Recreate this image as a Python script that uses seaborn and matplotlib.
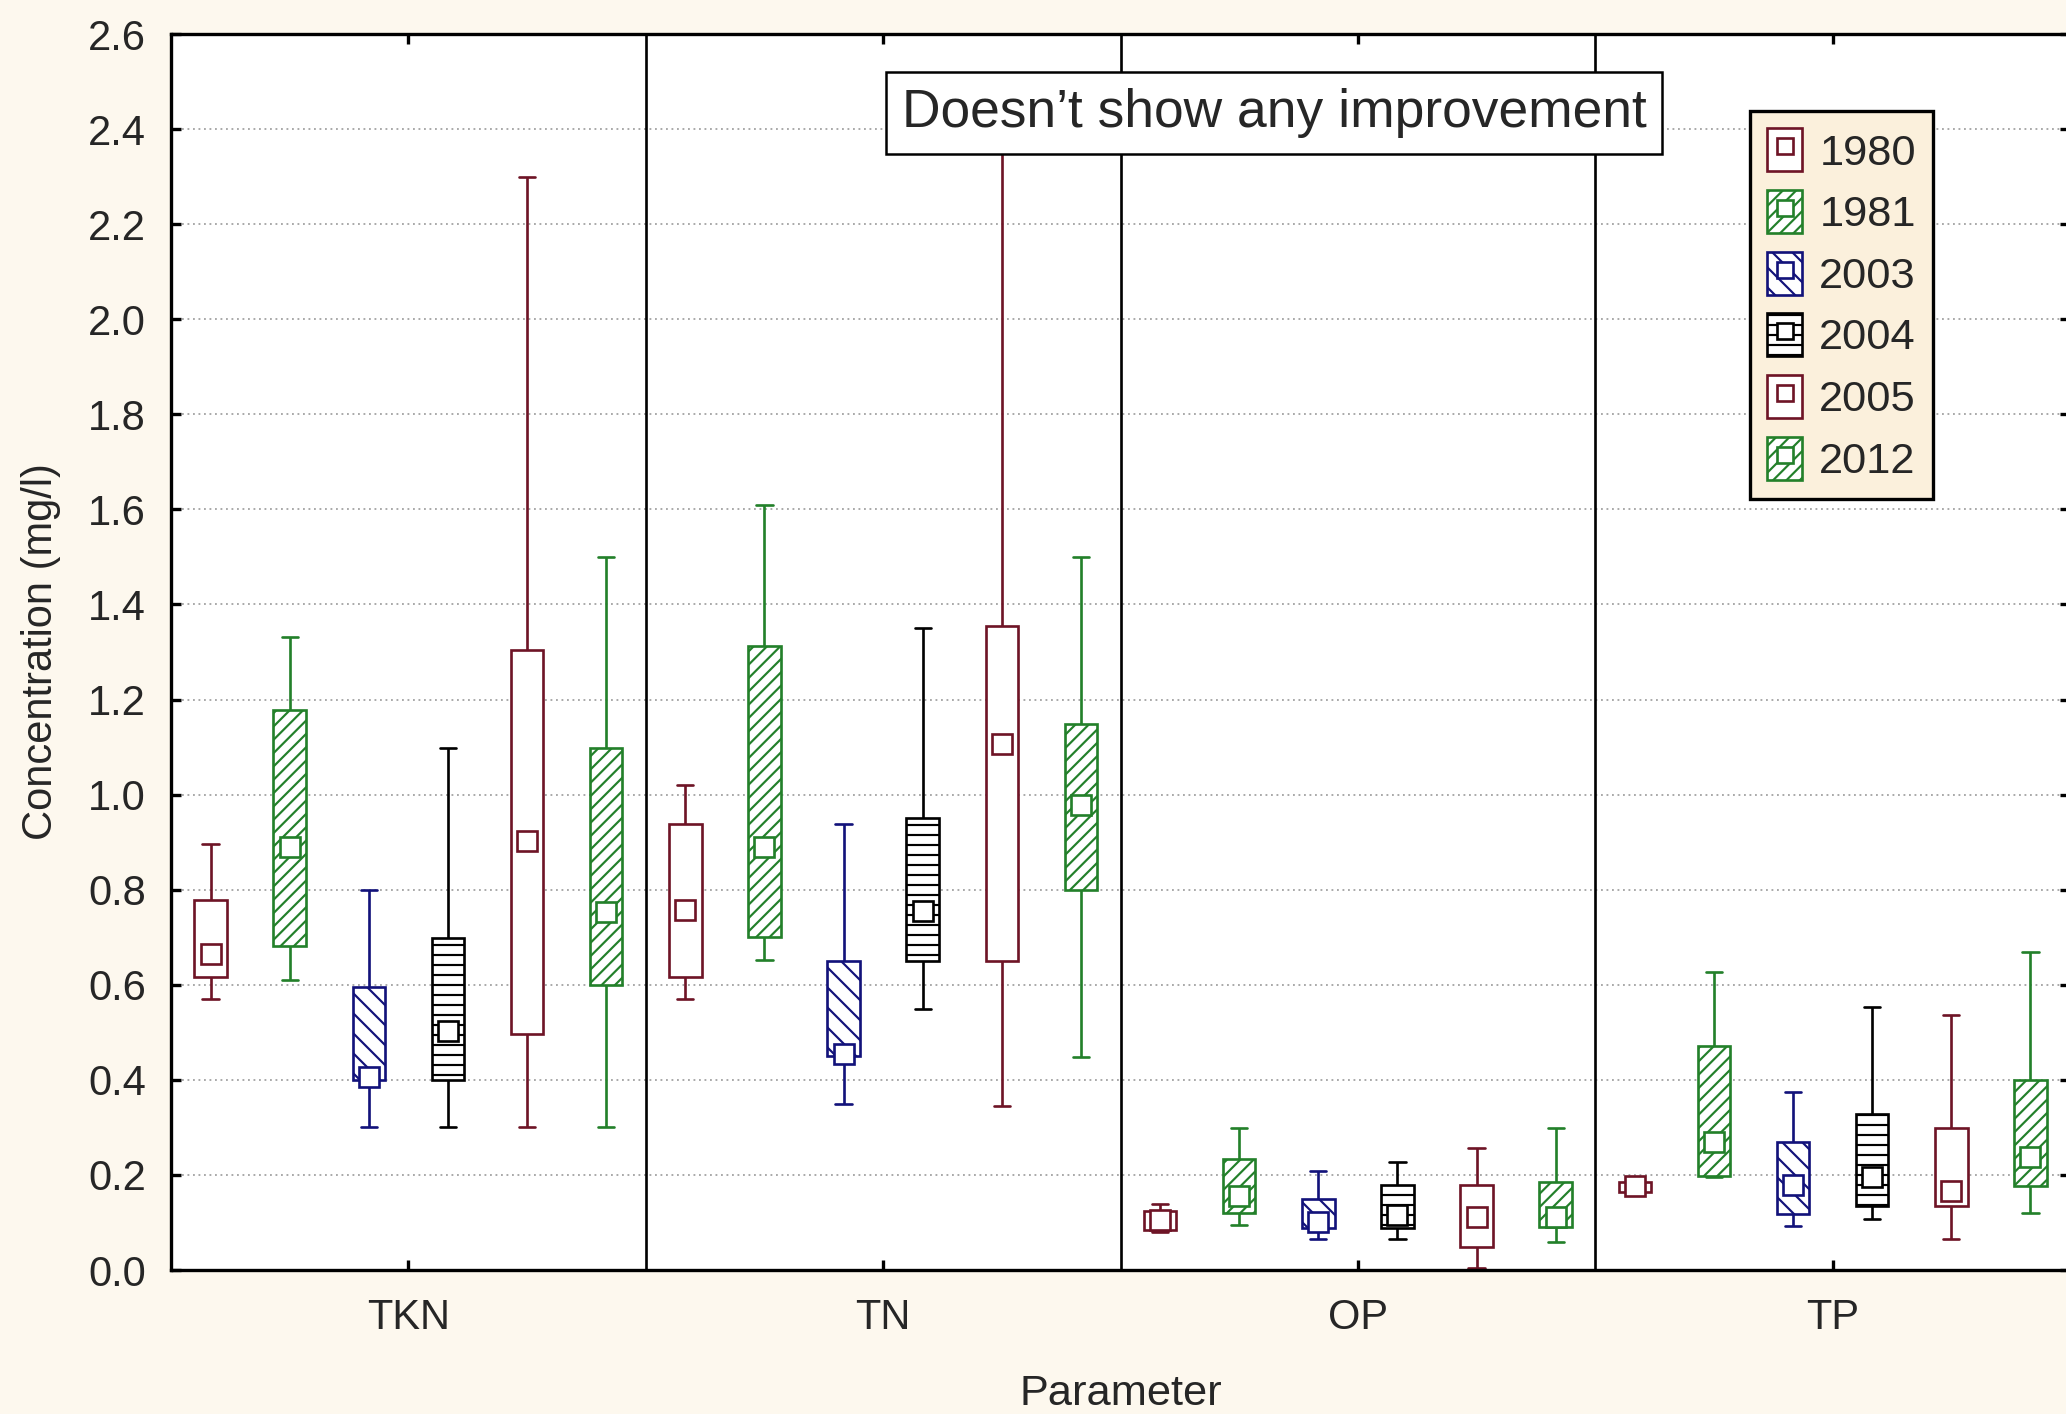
import numpy as np
import pandas as pd
import matplotlib
matplotlib.use("Agg")
import matplotlib.pyplot as plt
from matplotlib.patches import Patch
from matplotlib.lines import Line2D
from matplotlib.ticker import FormatStrFormatter
from matplotlib.colors import to_hex
import seaborn as sns

# ---- data: five-number summaries (min, Q1, median, Q3, max) in mg/l ----
params = ["TKN", "TN", "OP", "TP"]
years = ["1980", "1981", "2003", "2004", "2005", "2012"]

# one value per parameter, in the order of `params`
conc_min = {
    "1980": [0.57, 0.57, 0.080, 0.160],
    "1981": [0.61, 0.652, 0.094, 0.195],
    "2003": [0.30, 0.35, 0.065, 0.093],
    "2004": [0.30, 0.55, 0.065, 0.107],
    "2005": [0.30, 0.346, 0.005, 0.065],
    "2012": [0.30, 0.448, 0.058, 0.119],
}
conc_q1 = {
    "1980": [0.616, 0.617, 0.085, 0.165],
    "1981": [0.681, 0.70, 0.119, 0.198],
    "2003": [0.40, 0.45, 0.088, 0.118],
    "2004": [0.40, 0.65, 0.089, 0.135],
    "2005": [0.497, 0.651, 0.048, 0.135],
    "2012": [0.599, 0.80, 0.090, 0.177],
}
conc_median = {
    "1980": [0.665, 0.758, 0.105, 0.177],
    "1981": [0.889, 0.889, 0.156, 0.270],
    "2003": [0.405, 0.454, 0.100, 0.179],
    "2004": [0.502, 0.755, 0.116, 0.195],
    "2005": [0.903, 1.106, 0.112, 0.167],
    "2012": [0.753, 0.979, 0.112, 0.238],
}
conc_q3 = {
    "1980": [0.778, 0.939, 0.125, 0.186],
    "1981": [1.177, 1.313, 0.233, 0.471],
    "2003": [0.595, 0.65, 0.149, 0.270],
    "2004": [0.699, 0.95, 0.179, 0.328],
    "2005": [1.304, 1.355, 0.178, 0.298],
    "2012": [1.098, 1.149, 0.186, 0.400],
}
conc_max = {
    "1980": [0.897, 1.021, 0.138, 0.190],
    "1981": [1.332, 1.61, 0.298, 0.626],
    "2003": [0.80, 0.939, 0.208, 0.375],
    "2004": [1.098, 1.35, 0.227, 0.554],
    "2005": [2.30, 2.45, 0.256, 0.537],
    "2012": [1.50, 1.50, 0.298, 0.668],
}

year_colors = {
    "1980": "#6E1426",
    "1981": "#23802A",
    "2003": "#12127A",
    "2004": "#000000",
    "2005": "#6E1426",
    "2012": "#23802A",
}
year_hatches = {
    "1980": "",
    "1981": "///",
    "2003": "\\\\",
    "2004": "--",
    "2005": "",
    "2012": "///",
}

note_text = "Doesn\u2019t show any improvement"

# long table: each (parameter, year) group holds its five summary values,
# so the quartiles and whisker ends come out exactly as listed
rows = []
for yr in years:
    for i, p in enumerate(params):
        for stat in (conc_min, conc_q1, conc_median, conc_q3, conc_max):
            rows.append({"Parameter": p, "Year": yr, "Concentration": stat[yr][i]})
df = pd.DataFrame(rows)

# ---- styling ----
BG = "#FDF8EE"
LEG_BG = "#FBF0DC"
sns.set_style("ticks")
plt.rcParams["font.family"] = ["Liberation Sans", "DejaVu Sans"]
plt.rcParams["hatch.linewidth"] = 1.3

W, H, DPI = 2066, 1414, 120
fig = plt.figure(figsize=(W / DPI, H / DPI), dpi=DPI, facecolor=BG)
ax = fig.add_axes([171 / W, (H - 1270) / H, (W + 4 - 171) / W, (1270 - 34) / H])
ax.set_facecolor("white")

white_pal = {y: "white" for y in years}

for yr in years:
    n0 = len(ax.patches)
    sub = df[df["Year"] == yr]
    sns.boxplot(
        data=sub, x="Parameter", y="Concentration", hue="Year",
        order=params, hue_order=years, palette=white_pal,
        linecolor=year_colors[yr], linewidth=1.6,
        width=1.0, gap=0.59, whis=(0, 100), showfliers=False, dodge=True,
        medianprops={"visible": False}, legend=False, ax=ax,
    )
    for patch in ax.patches[n0:]:
        patch.set_hatch(year_hatches[yr])
        patch.set_edgecolor(year_colors[yr])
        patch.set_zorder(3)

# median markers: hollow squares at the dodged box positions
n_lines = len(ax.lines)
sns.pointplot(
    data=df, x="Parameter", y="Concentration", hue="Year",
    order=params, hue_order=years, palette=year_colors,
    estimator="median", errorbar=None, dodge=5 / 6,
    markers="s", linestyles="none", legend=False, ax=ax,
)
for line in ax.lines[n_lines:]:
    c = to_hex(line.get_color())
    line.set_marker("s")
    line.set_linestyle("none")
    line.set_markersize(12)
    line.set_markeredgewidth(1.6)
    line.set_markerfacecolor("white")
    line.set_markeredgecolor(c)
    line.set_zorder(5)

# group separators between parameters
for b in np.arange(len(params) - 1) + 0.5:
    ax.axvline(b, color="black", linewidth=1.6, zorder=4)

# axes
ax.set_xlim(-0.5, len(params) - 0.5)
ax.set_ylim(0, 2.6)
ax.set_yticks(np.arange(0, 2.61, 0.2))
ax.yaxis.set_major_formatter(FormatStrFormatter("%.1f"))
ax.set_xticks(range(len(params)))
ax.set_xticklabels(params)
ax.tick_params(axis="both", direction="in", length=6, width=2, color="black")
ax.tick_params(axis="y", left=True, right=True, labelsize=25, pad=15)
ax.tick_params(axis="x", top=True, bottom=True, labelsize=25, pad=17)
ax.grid(axis="y", linestyle=(0, (1, 2)), color="#A4A4A4", linewidth=1.1, zorder=1)
ax.grid(axis="x", visible=False)
ax.set_axisbelow(True)
for s in ax.spines.values():
    s.set_visible(True)
    s.set_color("black")
    s.set_linewidth(2)

ax.set_xlabel("Parameter", fontsize=26)
ax.set_ylabel("Concentration (mg/l)", fontsize=25)
ax.xaxis.set_label_coords(0.5, -0.084)
ax.yaxis.set_label_coords(-0.058, 0.5)

# legend with hatched box + median square per year
handles = [
    (Patch(facecolor="white", edgecolor=year_colors[y], hatch=year_hatches[y], linewidth=1.6),
     Line2D([], [], marker="s", linestyle="none", markerfacecolor="white",
            markeredgecolor=year_colors[y], markeredgewidth=1.6, markersize=10))
    for y in years
]
leg = fig.legend(
    handles, years, loc="upper left", bbox_to_anchor=(1750 / W, 1 - 111 / H),
    fontsize=26, handlelength=0.8, handleheight=1.15, handletextpad=0.4,
    labelspacing=0.38, borderpad=0.4, borderaxespad=0, fancybox=False,
    frameon=True, edgecolor="black", facecolor=LEG_BG, framealpha=1,
)
leg.get_frame().set_linewidth(2)

fig.text(
    1274 / W, 1 - 113 / H, note_text, ha="center", va="center", fontsize=32,
    bbox=dict(boxstyle="square,pad=0.3", facecolor="white", edgecolor="black", linewidth=1.5),
    zorder=10,
)

fig.savefig("out.png", dpi=DPI, facecolor=BG)
